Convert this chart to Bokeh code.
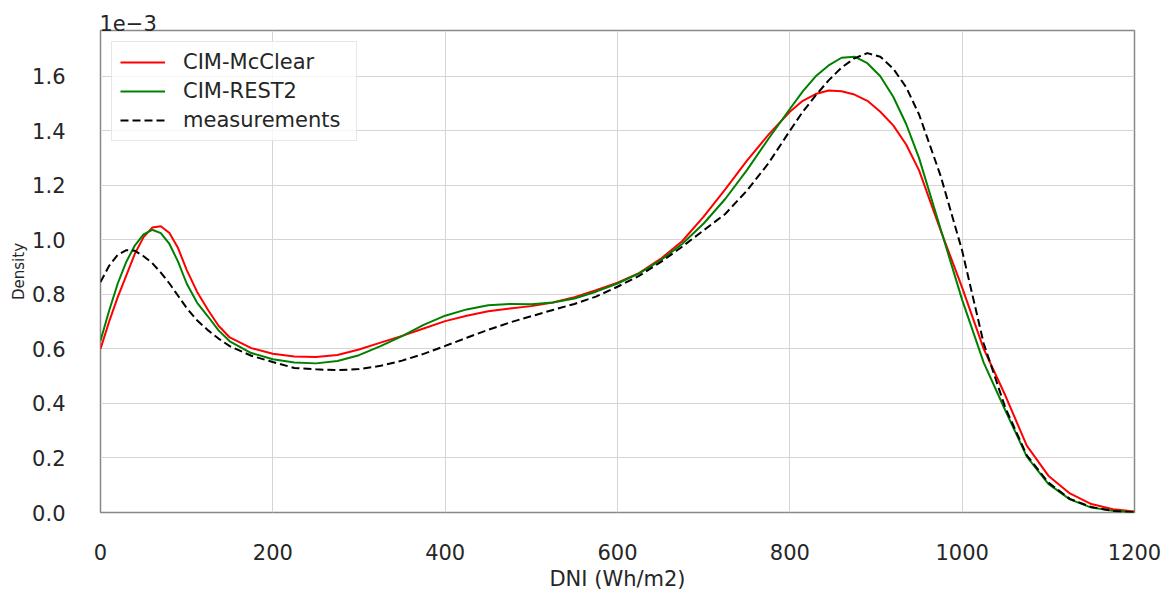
from bokeh.plotting import figure
from bokeh.models import FixedTicker, Range1d, Legend, LegendItem, PrintfTickFormatter
from bokeh.embed import file_html
from bokeh.resources import INLINE

# DNI grid (Wh/m2)
dni = [0, 10, 20, 30, 40, 50, 60, 70, 80, 90, 100, 112, 125, 137, 150,
       175, 200, 225, 250, 275, 300, 325, 350, 375, 400, 425, 450, 475, 500,
       525, 550, 575, 600, 625, 650, 675, 700, 725, 750, 775, 800,
       815, 830, 845, 860, 875, 890, 905, 920, 935, 950,
       975, 1000, 1025, 1050, 1075, 1100, 1125, 1150, 1175, 1200]

# densities in units of 1e-3
mcclear = [0.60, 0.70, 0.79, 0.87, 0.95, 1.01, 1.045, 1.05, 1.025, 0.97, 0.89, 0.81, 0.742, 0.685, 0.642,
           0.603, 0.582, 0.572, 0.570, 0.578, 0.598, 0.623, 0.648, 0.675, 0.702, 0.722, 0.738, 0.748, 0.757,
           0.770, 0.790, 0.815, 0.843, 0.878, 0.930, 0.995, 1.085, 1.185, 1.29, 1.385, 1.47,
           1.51, 1.535, 1.548, 1.545, 1.533, 1.51, 1.47, 1.42, 1.35, 1.255,
           1.035, 0.825, 0.60, 0.43, 0.245, 0.135, 0.07, 0.031, 0.012, 0.004]

rest2 = [0.63, 0.74, 0.84, 0.92, 0.98, 1.02, 1.037, 1.025, 0.985, 0.92, 0.84, 0.77, 0.718, 0.668, 0.628,
         0.585, 0.562, 0.550, 0.547, 0.556, 0.577, 0.610, 0.647, 0.688, 0.722, 0.745, 0.760, 0.765, 0.764,
         0.770, 0.785, 0.810, 0.840, 0.877, 0.925, 0.985, 1.06, 1.15, 1.255, 1.37, 1.48,
         1.545, 1.60, 1.64, 1.668, 1.672, 1.648, 1.60, 1.525, 1.425, 1.30,
         1.04, 0.78, 0.55, 0.375, 0.205, 0.105, 0.048, 0.018, 0.006, 0.001]

measurements = [0.845, 0.905, 0.945, 0.962, 0.96, 0.94, 0.915, 0.88, 0.84, 0.795, 0.75, 0.705, 0.668, 0.638, 0.61,
                0.575, 0.552, 0.530, 0.525, 0.522, 0.526, 0.538, 0.557, 0.582, 0.611, 0.641, 0.670, 0.697, 0.720,
                0.743, 0.765, 0.792, 0.828, 0.868, 0.918, 0.975, 1.035, 1.095, 1.18, 1.28, 1.40,
                1.47, 1.53, 1.585, 1.632, 1.666, 1.685, 1.672, 1.628, 1.56, 1.46,
                1.235, 0.96, 0.62, 0.385, 0.21, 0.11, 0.05, 0.02, 0.006, 0.001]

x_ticks = [0, 200, 400, 600, 800, 1000, 1200]
y_ticks = [0.0, 0.2, 0.4, 0.6, 0.8, 1.0, 1.2, 1.4, 1.6]
series_names = ["CIM-McClear", "CIM-REST2", "measurements"]
offset_text = "1e\u22123"

TXT = "#262626"
FONT = "DejaVu Sans"

p = figure(width=1171, height=593, output_backend="svg", toolbar_location=None,
           x_range=Range1d(0, 1200), y_range=Range1d(0, 1.768),
           min_border_left=100, min_border_right=37, min_border_top=30, min_border_bottom=79)
p.background_fill_color = "white"
p.border_fill_color = "white"
p.outline_line_color = "#888888"
p.outline_line_width = 1.5

p.title.text = offset_text
p.title.align = "left"
p.title.text_font = FONT
p.title.text_font_size = "21px"
p.title.text_font_style = "normal"
p.title.text_color = TXT
p.title.standoff = 0
p.title.offset = -1

for ax in (p.xaxis[0], p.yaxis[0]):
    ax.axis_line_color = None
    ax.major_tick_line_color = None
    ax.minor_tick_line_color = None
    ax.major_label_text_font = FONT
    ax.major_label_text_font_size = "21px"
    ax.major_label_text_color = TXT
    ax.axis_label_text_font = FONT
    ax.axis_label_text_color = TXT
    ax.axis_label_text_font_style = "normal"

p.xaxis.ticker = FixedTicker(ticks=x_ticks)
p.yaxis.ticker = FixedTicker(ticks=y_ticks)
p.yaxis.formatter = PrintfTickFormatter(format="%.1f")
p.xaxis.axis_label = "DNI (Wh/m2)"
p.xaxis.axis_label_text_font_size = "21px"
p.xaxis.major_label_standoff = 25
p.xaxis.axis_label_standoff = 4
p.yaxis.axis_label = "Density"
p.yaxis.axis_label_text_font_size = "15px"
p.yaxis.major_label_standoff = 29
p.yaxis.axis_label_standoff = 1

p.xgrid.grid_line_color = "#d5d5d5"
p.ygrid.grid_line_color = "#d5d5d5"
p.xgrid.grid_line_width = 1
p.ygrid.grid_line_width = 1

r1 = p.line(dni, mcclear, line_color="#ff0000", line_width=2)
r2 = p.line(dni, rest2, line_color="#008000", line_width=2)
r3 = p.line(dni, measurements, line_color="#000000", line_width=2, line_dash="8 4")

legend = Legend(items=[LegendItem(label=series_names[0], renderers=[r1]),
                       LegendItem(label=series_names[1], renderers=[r2]),
                       LegendItem(label=series_names[2], renderers=[r3])],
                location="top_left", margin=11, padding=8, spacing=5,
                glyph_width=45, glyph_height=24, label_height=24, label_width=165,
                label_standoff=18, label_text_font=FONT, label_text_font_size="21px",
                label_text_color=TXT, border_line_color="#d0d0d0", border_line_width=1,
                background_fill_color="white", background_fill_alpha=0.8)
p.add_layout(legend)

open("out.html", "w").write(file_html(p, INLINE))
